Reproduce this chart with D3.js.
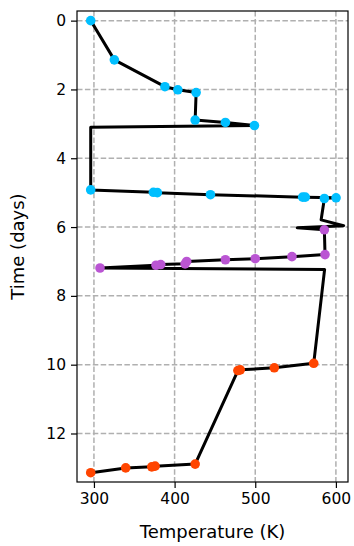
<!DOCTYPE html>
<html>
<head>
<meta charset="utf-8">
<script src="https://cdn.jsdelivr.net/npm/d3@7"></script>
<style>
  html, body { margin: 0; padding: 0; background: #fff; }
  svg { display: block; font-family: "DejaVu Sans", sans-serif; }
</style>
</head>
<body>
<svg id="chart" width="354" height="546"></svg>
<script>
// ---- data ----
const xTicks = [300, 400, 500, 600];
const yTicks = [0, 2, 4, 6, 8, 10, 12];

// trajectory path (temperature K, time days)
const pathTemp = [296, 325.3, 388, 404, 426.7, 425.5, 463, 499, 296, 296, 373.7, 378.6, 444.5, 558.8, 562, 600.2, 585.7, 581.7, 609.6, 552, 585.7, 586.5, 545.5, 500, 463, 415, 413, 382.8, 377, 307.5, 586, 572.5, 523.6, 481.4, 478.5, 425.5, 375.8, 371.7, 339.4, 296];
const pathTime = [0, 1.14, 1.92, 2.01, 2.09, 2.89, 2.96, 3.05, 3.1, 4.92, 4.99, 5.0, 5.06, 5.13, 5.13, 5.15, 5.17, 5.79, 5.96, 6.02, 6.08, 6.80, 6.86, 6.92, 6.95, 7.0, 7.07, 7.09, 7.11, 7.19, 7.23, 9.96, 10.09, 10.15, 10.17, 12.89, 12.95, 12.97, 13.0, 13.14];

// phase 1 samples (cyan)
const cyanTemp = [296, 325.3, 388, 404, 426.7, 425.5, 463, 499, 296, 373.7, 378.6, 444.5, 558.8, 562, 600.2, 585.7];
const cyanTime = [0, 1.14, 1.92, 2.01, 2.09, 2.89, 2.96, 3.05, 4.92, 4.99, 5.0, 5.06, 5.13, 5.13, 5.15, 5.17];
// phase 2 samples (purple)
const purpleTemp = [585.7, 586.5, 545.5, 500, 463, 415, 413, 382.8, 377, 307.5];
const purpleTime = [6.08, 6.80, 6.86, 6.92, 6.95, 7.0, 7.07, 7.09, 7.11, 7.19];
// phase 3 samples (orange)
const orangeTemp = [572.5, 523.6, 481.4, 478.5, 425.5, 375.8, 371.7, 339.4, 296];
const orangeTime = [9.96, 10.09, 10.15, 10.17, 12.89, 12.95, 12.97, 13.0, 13.14];

const seriesColors = ["#00bfff", "#ba55d3", "#ff4500"];

// ---- layout ----
const mLeft = 77, mRight = 348, mTop = 11, mBottom = 482;
const svg = d3.select("#chart");

const x = d3.scaleLinear().domain([279, 615]).range([mLeft, mRight]);
const y = d3.scaleLinear().domain([-0.28, 13.41]).range([mTop, mBottom]);

// grid
const grid = svg.append("g");
grid.selectAll("line.gx").data(xTicks).join("line")
  .attr("x1", d => x(d)).attr("x2", d => x(d))
  .attr("y1", mTop).attr("y2", mBottom)
  .attr("stroke", "#b0b0b0").attr("stroke-width", 1.5)
  .attr("stroke-dasharray", "5.5,2.4");
grid.selectAll("line.gy").data(yTicks).join("line")
  .attr("y1", d => y(d)).attr("y2", d => y(d))
  .attr("x1", mLeft).attr("x2", mRight)
  .attr("stroke", "#b0b0b0").attr("stroke-width", 1.5)
  .attr("stroke-dasharray", "5.5,2.4");

// clip
svg.append("clipPath").attr("id", "clip").append("rect")
  .attr("x", mLeft).attr("y", mTop).attr("width", mRight - mLeft).attr("height", mBottom - mTop);

const plot = svg.append("g").attr("clip-path", "url(#clip)");

const pathData = pathTemp.map((t, i) => [t, pathTime[i]]);
plot.append("path")
  .datum(pathData)
  .attr("d", d3.line().x(d => x(d[0])).y(d => y(d[1])))
  .attr("fill", "none").attr("stroke", "#000").attr("stroke-width", 3)
  .attr("stroke-linejoin", "round").attr("stroke-linecap", "square");

const groups = [
  [cyanTemp, cyanTime],
  [purpleTemp, purpleTime],
  [orangeTemp, orangeTime]
];
groups.forEach(([temps, times], gi) => {
  plot.append("g").selectAll("circle")
    .data(temps.map((t, i) => [t, times[i]]))
    .join("circle")
    .attr("cx", d => x(d[0])).attr("cy", d => y(d[1]))
    .attr("r", 4.8)
    .attr("fill", seriesColors[gi]);
});

// axes
const xAxis = svg.append("g").attr("transform", `translate(0,${mBottom})`)
  .call(d3.axisBottom(x).tickValues(xTicks).tickSize(6).tickPadding(5).tickSizeOuter(0));
const yAxis = svg.append("g").attr("transform", `translate(${mLeft},0)`)
  .call(d3.axisLeft(y).tickValues(yTicks).tickSize(6).tickPadding(5).tickSizeOuter(0));
[xAxis, yAxis].forEach(a => {
  a.select(".domain").remove();
  a.selectAll(".tick line").attr("stroke", "#000").attr("stroke-width", 1.2);
  a.selectAll(".tick text").attr("fill", "#000")
    .style("font-family", "DejaVu Sans").style("font-size", "15.5px");
});

// frame
svg.append("rect").attr("x", mLeft).attr("y", mTop)
  .attr("width", mRight - mLeft).attr("height", mBottom - mTop)
  .attr("fill", "none").attr("stroke", "#000").attr("stroke-width", 1.2);

// labels
svg.append("text").attr("x", (mLeft + mRight) / 2).attr("y", 538)
  .attr("text-anchor", "middle").style("font-size", "18px").attr("fill", "#000")
  .text("Temperature (K)");
svg.append("text")
  .attr("transform", `translate(24,${(mTop + mBottom) / 2}) rotate(-90)`)
  .attr("text-anchor", "middle").style("font-size", "18px").attr("fill", "#000")
  .text("Time (days)");
</script>
</body>
</html>
